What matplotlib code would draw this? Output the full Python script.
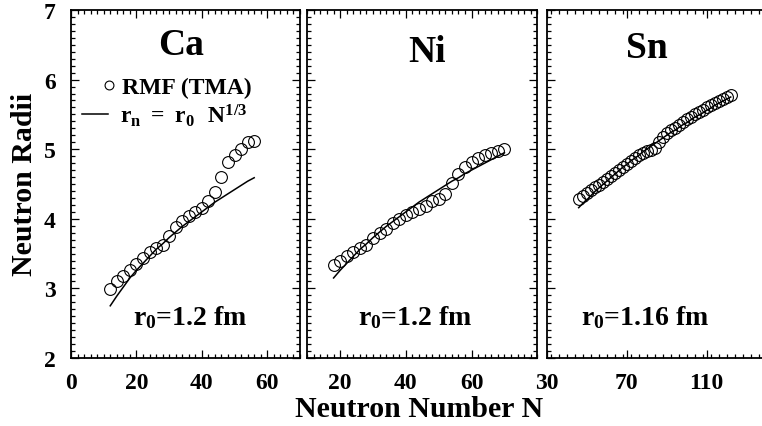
import matplotlib
matplotlib.use("Agg")
import matplotlib.pyplot as plt
from matplotlib.ticker import MultipleLocator

plt.rcParams['font.family'] = ['Liberation Serif', 'DejaVu Serif']
plt.rcParams['font.weight'] = 'bold'
plt.rcParams['mathtext.fontset'] = 'custom'
plt.rcParams['mathtext.rm'] = 'Liberation Serif:bold'
plt.rcParams['mathtext.bf'] = 'Liberation Serif:bold'
plt.rcParams['mathtext.it'] = 'Liberation Serif:bold'

# ---- data ----
ca_N = [12, 14, 16, 18, 20, 22, 24, 26, 28, 30, 32, 34, 36, 38, 40, 42, 44, 46, 48, 50, 52, 54, 56]
ca_rmf = [2.99, 3.11, 3.18, 3.27, 3.35, 3.43, 3.52, 3.58, 3.62, 3.76, 3.88, 3.97, 4.04, 4.10,
          4.16, 4.25, 4.38, 4.60, 4.81, 4.91, 5.00, 5.11, 5.12]
ca_fit = [2.75, 2.89, 3.02, 3.15, 3.26, 3.36, 3.46, 3.56, 3.64, 3.73, 3.81, 3.89, 3.96, 4.03,
          4.10, 4.17, 4.24, 4.30, 4.36, 4.42, 4.48, 4.54, 4.59]

ni_N = [18, 20, 22, 24, 26, 28, 30, 32, 34, 36, 38, 40, 42, 44, 46, 48, 50, 52, 54, 56, 58, 60,
        62, 64, 66, 68, 70]
ni_rmf = [3.33, 3.40, 3.46, 3.52, 3.58, 3.62, 3.72, 3.79, 3.86, 3.94, 4.00, 4.05, 4.10, 4.14,
          4.19, 4.25, 4.29, 4.36, 4.52, 4.64, 4.74, 4.81, 4.87, 4.92, 4.95, 4.98, 5.00]
ni_fit = [3.15, 3.26, 3.36, 3.46, 3.56, 3.64, 3.73, 3.81, 3.89, 3.96, 4.03, 4.10, 4.17, 4.24,
          4.30, 4.36, 4.42, 4.48, 4.54, 4.59, 4.65, 4.70, 4.75, 4.80, 4.85, 4.90, 4.95]

sn_N = [46, 48, 50, 52, 54, 56, 58, 60, 62, 64, 66, 68, 70, 72, 74, 76, 78, 80, 82, 84, 86, 88,
        90, 92, 94, 96, 98, 100, 102, 104, 106, 108, 110, 112, 114, 116, 118, 120, 122]
sn_rmf = [4.29, 4.33, 4.37, 4.41, 4.45, 4.49, 4.53, 4.57, 4.62, 4.66, 4.70, 4.74, 4.79, 4.83,
          4.87, 4.91, 4.94, 4.97, 4.99, 5.02, 5.10, 5.17, 5.23, 5.27, 5.31, 5.35, 5.39, 5.43,
          5.46, 5.50, 5.53, 5.57, 5.60, 5.63, 5.66, 5.69, 5.72, 5.75, 5.78]
sn_fit = [4.16, 4.22, 4.27, 4.33, 4.39, 4.44, 4.49, 4.54, 4.59, 4.64, 4.69, 4.74, 4.78, 4.83,
          4.87, 4.91, 4.96, 5.00, 5.04, 5.08, 5.12, 5.16, 5.20, 5.24, 5.27, 5.31, 5.35, 5.38,
          5.42, 5.46, 5.49, 5.52, 5.56, 5.59, 5.63, 5.66, 5.69, 5.72, 5.75]

elements = ['Ca', 'Ni', 'Sn']
r0_labels = ['r$_0$=1.2 fm', 'r$_0$=1.2 fm', 'r$_0$=1.16 fm']
x_limits = [(0, 70), (10, 80), (30, 145)]
x_majors = [[0, 20, 40, 60], [20, 40, 60], [30, 70, 110]]
x_minor_step = [2, 2, 4]
y_ticks = [2, 3, 4, 5, 6, 7]

fig = plt.figure(figsize=(7.62, 4.27), dpi=100)
W, H = 762.0, 427.0
bottom = (H - 359) / H
height = (359 - 11) / H
lefts = [71, 307.3, 546.7]
widths = [229, 230, 230]

series = [(ca_N, ca_rmf, ca_fit), (ni_N, ni_rmf, ni_fit), (sn_N, sn_rmf, sn_fit)]
title_pos = [(0.479, 0.8736), (0.519, 0.8543), (0.436, 0.866)]
r0_pos = [(0.52, 0.0977), (0.468, 0.0977), (0.427, 0.0977)]

axes = []
for i in range(3):
    ax = fig.add_axes([lefts[i] / W, bottom, widths[i] / W, height])
    axes.append(ax)
    N, rmf, fit = series[i]
    ax.plot(N, fit, '-', color='black', lw=1.1, label=r'$\mathrm{r_n\ =\ r_0\ \ N^{1/3}}$')
    ax.plot(N, rmf, 'o', mfc='none', mec='black', ms=8.5, mew=0.8, label='RMF (TMA)')
    ax.set_xlim(*x_limits[i])
    ax.set_ylim(2, 7)
    ax.set_xticks(x_majors[i])
    ax.xaxis.set_minor_locator(MultipleLocator(x_minor_step[i]))
    ax.set_yticks(y_ticks)
    ax.yaxis.set_minor_locator(MultipleLocator(0.1))
    ax.tick_params(which='both', direction='in', top=True, right=True, width=0.9)
    ax.tick_params(which='major', length=6, labelsize=17)
    ax.tick_params(axis='x', which='major', pad=10)
    ax.tick_params(axis='y', which='major', pad=11)
    ax.tick_params(which='minor', length=3)
    if i > 0:
        ax.tick_params(axis='y', labelleft=False)
    for s in ax.spines.values():
        s.set_linewidth(1.3)
    ax.text(title_pos[i][0], title_pos[i][1], elements[i], transform=ax.transAxes,
            ha='center', va='baseline', fontsize=27, fontweight='bold')
    ax.text(r0_pos[i][0], r0_pos[i][1], r0_labels[i], transform=ax.transAxes,
            ha='center', va='baseline', fontsize=20, fontweight='bold')

ax1 = axes[0]
handles, labels = ax1.get_legend_handles_labels()
leg_a = ax1.legend([handles[1]], [labels[1]], loc='center left',
                   bbox_to_anchor=(0.135, 0.7787), frameon=False, fontsize=17,
                   handlelength=0.6, handletextpad=0.25, borderpad=0.0,
                   borderaxespad=0.0, markerscale=0.75)
ax1.add_artist(leg_a)
leg_b = ax1.legend([handles[0]], [labels[0]], loc='center left',
                   bbox_to_anchor=(0.048, 0.6985), frameon=False, fontsize=17,
                   handlelength=1.1, handletextpad=0.5, borderpad=0.0,
                   borderaxespad=0.0)

fig.text(25 / W, 1 - 184 / H, 'Neutron Radii', rotation=90, ha='center', va='center',
         fontsize=21.5, fontweight='bold')
fig.text(419 / W, 1 - 416.7 / H, 'Neutron Number N', ha='center', va='baseline',
         fontsize=21.5, fontweight='bold')

fig.savefig('out.png', dpi=100)
